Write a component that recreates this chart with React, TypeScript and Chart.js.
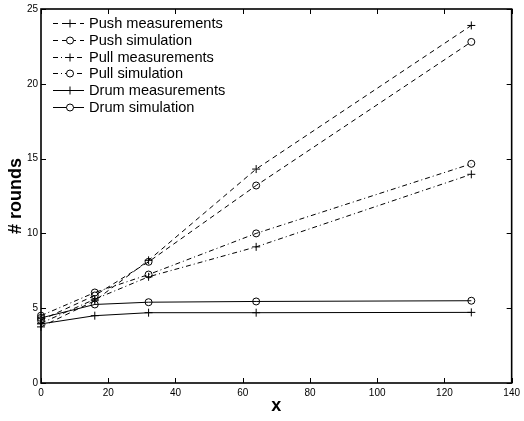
import React, { useEffect, useRef } from 'react';
import { Chart, registerables } from 'chart.js';

Chart.register(...registerables);

const xValues = [0, 16, 32, 64, 128];
const pushMeasurements = [3.75, 5.5, 8.2, 14.3, 23.9];
const pushSimulation = [4.2, 5.85, 8.1, 13.2, 22.8];
const pullMeasurements = [4.0, 5.6, 7.1, 9.1, 13.95];
const pullSimulation = [4.5, 6.05, 7.25, 10.0, 14.65];
const drumMeasurements = [3.95, 4.5, 4.7, 4.7, 4.72];
const drumSimulation = [4.35, 5.25, 5.4, 5.45, 5.5];

const seriesNames = [
  'Push measurements',
  'Push simulation',
  'Pull measurements',
  'Pull simulation',
  'Drum measurements',
  'Drum simulation',
];
const seriesValues = [
  pushMeasurements,
  pushSimulation,
  pullMeasurements,
  pullSimulation,
  drumMeasurements,
  drumSimulation,
];
const seriesDash = [[5, 4], [5, 4], [5, 3, 1, 3], [5, 3, 1, 3], [], []];
const seriesMarker = ['cross', 'circle', 'cross', 'circle', 'cross', 'circle'];

const xTickValues = [0, 20, 40, 60, 80, 100, 120, 140];
const yTickValues = [0, 5, 10, 15, 20, 25];

const FONT = '"Liberation Sans", Arial, Helvetica, sans-serif';

const decorPlugin = {
  id: 'decor',
  afterDatasetsDraw(chart: any) {
    const { ctx, chartArea, scales } = chart;
    const { left, right, top, bottom } = chartArea;
    ctx.save();
    ctx.strokeStyle = '#000';
    ctx.setLineDash([]);
    ctx.lineWidth = 1;
    const tl = 5;
    xTickValues.forEach((v) => {
      const x = Math.round(scales.x.getPixelForValue(v)) + 0.5;
      ctx.beginPath();
      ctx.moveTo(x, bottom);
      ctx.lineTo(x, bottom - tl);
      ctx.moveTo(x, top);
      ctx.lineTo(x, top + tl);
      ctx.stroke();
    });
    yTickValues.forEach((v) => {
      const y = Math.round(scales.y.getPixelForValue(v)) + 0.5;
      ctx.beginPath();
      ctx.moveTo(left, y);
      ctx.lineTo(left + tl, y);
      ctx.moveTo(right, y);
      ctx.lineTo(right - tl, y);
      ctx.stroke();
    });
    ctx.lineWidth = 1.6;
    ctx.strokeRect(left, top, right - left, bottom - top);

    // legend
    const lx0 = 53;
    const lx1 = 84;
    const mx = 70;
    const tx = 89;
    const y0 = 23;
    const dy = 16.8;
    ctx.font = `14.6px ${FONT}`;
    ctx.textBaseline = 'middle';
    ctx.textAlign = 'left';
    ctx.fillStyle = '#000';
    chart.data.datasets.forEach((ds: any, i: number) => {
      const y = Math.round(y0 + i * dy) + 0.5;
      ctx.lineWidth = 1;
      ctx.setLineDash(ds.borderDash || []);
      ctx.beginPath();
      ctx.moveTo(lx0, y);
      ctx.lineTo(lx1, y);
      ctx.stroke();
      ctx.setLineDash([]);
      if (ds.pointStyle === 'cross') {
        ctx.beginPath();
        ctx.moveTo(mx - 4, y);
        ctx.lineTo(mx + 4, y);
        ctx.moveTo(mx, y - 4);
        ctx.lineTo(mx, y + 4);
        ctx.stroke();
      } else {
        ctx.beginPath();
        ctx.fillStyle = '#fff';
        ctx.arc(mx, y, 3.5, 0, Math.PI * 2);
        ctx.fill();
        ctx.stroke();
        ctx.fillStyle = '#000';
      }
      ctx.fillText(ds.label, tx, y);
    });
    ctx.restore();
  },
};

export default function App() {
  const ref = useRef<HTMLCanvasElement>(null);
  useEffect(() => {
    if (!ref.current) return;
    const datasets = seriesNames.map((name, i) => ({
      label: name,
      data: xValues.map((x, j) => ({ x, y: seriesValues[i][j] })),
      borderColor: '#000',
      borderWidth: 1,
      borderDash: seriesDash[i],
      pointStyle: seriesMarker[i],
      pointRadius: seriesMarker[i] === 'cross' ? 4 : 3.5,
      pointBorderColor: '#000',
      pointBackgroundColor: 'rgba(0,0,0,0)',
      pointBorderWidth: 1,
      fill: false,
      tension: 0,
      clip: false,
    }));
    const chart = new Chart(ref.current, {
      type: 'line',
      data: { datasets },
      options: {
        animation: false,
        responsive: false,
        devicePixelRatio: 1,
        layout: { padding: { top: 7, right: 8, left: 0, bottom: 0 } },
        plugins: { legend: { display: false }, tooltip: { enabled: false } },
        scales: {
          x: {
            type: 'linear',
            min: 0,
            max: 140,
            afterFit: (s: any) => {
              s.height = 38;
            },
            afterBuildTicks: (s: any) => {
              s.ticks = xTickValues.map((v) => ({ value: v }));
            },
            grid: { display: false, drawTicks: false },
            border: { display: false },
            ticks: {
              padding: 4,
              color: '#000',
              font: { family: FONT, size: 10 },
              maxRotation: 0,
              autoSkip: false,
            },
            title: {
              display: true,
              text: 'x',
              color: '#000',
              font: { family: FONT, size: 18, weight: 'bold' },
              padding: { top: 0, bottom: 4 },
            },
          },
          y: {
            type: 'linear',
            min: 0,
            max: 25,
            afterFit: (s: any) => {
              s.width = 41;
            },
            afterBuildTicks: (s: any) => {
              s.ticks = yTickValues.map((v) => ({ value: v }));
            },
            grid: { display: false, drawTicks: false },
            border: { display: false },
            ticks: {
              padding: 3,
              color: '#000',
              font: { family: FONT, size: 10 },
              autoSkip: false,
            },
            title: {
              display: true,
              text: '# rounds',
              color: '#000',
              font: { family: FONT, size: 18, weight: 'bold' },
              padding: { top: 5, bottom: 0 },
            },
          },
        },
      },
      plugins: [decorPlugin],
    } as any);
    return () => chart.destroy();
  }, []);
  return (
    <div style={{ position: 'fixed', left: 0, top: 0, width: 524, height: 421, background: '#fff' }}>
      <canvas ref={ref} width={524} height={421} style={{ width: 524, height: 421, display: 'block' }} />
    </div>
  );
}
